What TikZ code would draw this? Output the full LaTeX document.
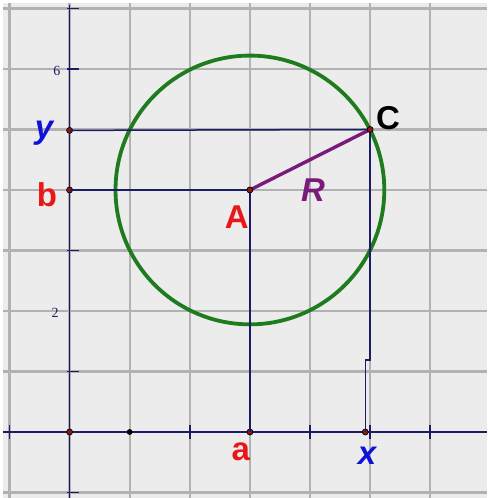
\documentclass[tikz,border=0pt]{standalone}
\usepackage{fontspec}
\setmainfont{Liberation Sans}
\newfontfamily\tickfont{Liberation Serif}
\definecolor{bgc}{HTML}{ECECEC}
\definecolor{gridc}{HTML}{B2B2B2}
\definecolor{axisc}{HTML}{1C1C66}
\definecolor{circc}{HTML}{1E7B1E}
\definecolor{purp}{HTML}{7A1A7A}
\definecolor{ptc}{HTML}{8B1A1A}
\definecolor{redc}{HTML}{E81818}
\definecolor{bluec}{HTML}{1010D8}
\tikzset{
  gridline/.style={draw=gridc, line width=2.2pt},
  axisline/.style={draw=axisc, line width=1.6pt},
  projline/.style={draw=axisc, line width=1.5pt},
  tickmark/.style={draw=axisc, line width=1.6pt},
  ptdot/.style={circle, fill=ptc, draw=black, line width=0.7pt, inner sep=0pt, minimum size=6pt},
  lbl/.style={inner sep=0pt, font=\fontsize{33}{33}\selectfont\bfseries},
  lbli/.style={inner sep=0pt, font=\fontsize{33}{33}\selectfont\bfseries\itshape},
  ticklbl/.style={inner sep=0pt, text=axisc, font=\fontsize{14}{14}\selectfont\tickfont}
}
\begin{document}
\begin{tikzpicture}[x=60.1pt,y=60.5pt]
\useasboundingbox (-1.158,-1.091) rectangle (6.945,7.140);
\fill[white] (-1.158,-1.091) rectangle (6.945,7.140);
\fill[bgc] (-1.108,-1.091) rectangle (6.945,7.09);
% grid
\foreach \i in {-1,...,6} \draw[gridline] (\i,-1.091) -- (\i,7.09);
\foreach \j in {-1,...,7} \draw[gridline] (-1.108,\j) -- (6.945,\j);
% axes
\draw[axisline] (-1.108,0) -- (6.945,0);
\draw[axisline] (0,-1.091) -- (0,7.05);
\foreach \i in {-1,2,4,5,6} \draw[tickmark] (\i,-0.11) -- (\i,0.11);
\foreach \j in {-1,1,3,6,7} \draw[tickmark] (-0.05,\j) -- (0.15,\j);
\node[ticklbl] (t6) at (-0.21,5.97) {6};
\node[ticklbl] (t2) at (-0.24,1.97) {2};
% points
\coordinate (Ac) at (3,4);
\coordinate (Cc) at (5,5);
% circle
\draw[circc, line width=3.8pt] (Ac) circle [x radius=2.236, y radius=2.236*60.1/60.5];
% projection lines
\node[ptdot] (O) at (0,0) {};
\node[ptdot, fill=black, minimum size=5pt] (P1) at (1,0) {};
\node[ptdot] (a) at (3,0) {};
\node[ptdot] (xp) at (4.92,0) {};
\node[ptdot] (yp) at (0,4.985) {};
\node[ptdot] (bp) at (0,4) {};
\draw[projline] (yp.center) -- (Cc);
\draw[projline] (bp.center) -- (Ac);
\draw[projline] (Ac) -- (a.center);
\draw[projline] (Cc) -- (5,1.19) -- (4.92,1.19) -- (xp.center);
% radius
\draw[purp, line width=3.4pt] (Ac) -- (Cc);
\node[ptdot] (A) at (Ac) {};
\node[ptdot] (C) at (Cc) {};
% labels
\node[lbli, text=bluec] (ly) at (-0.426,4.94) {y};
\node[lbl, text=redc] (lb) at (-0.376,3.93) {b};
\node[lbl, text=redc] (lA) at (2.78,3.55) {A};
\node[lbli, text=purp] (lR) at (4.05,4.0) {R};
\node[lbl, text=black] (lC) at (5.30,5.19) {C};
\node[lbl, text=redc] (la) at (2.85,-0.33) {a};
\node[lbli, text=bluec] (lx) at (4.95,-0.40) {x};
\end{tikzpicture}
\end{document}
